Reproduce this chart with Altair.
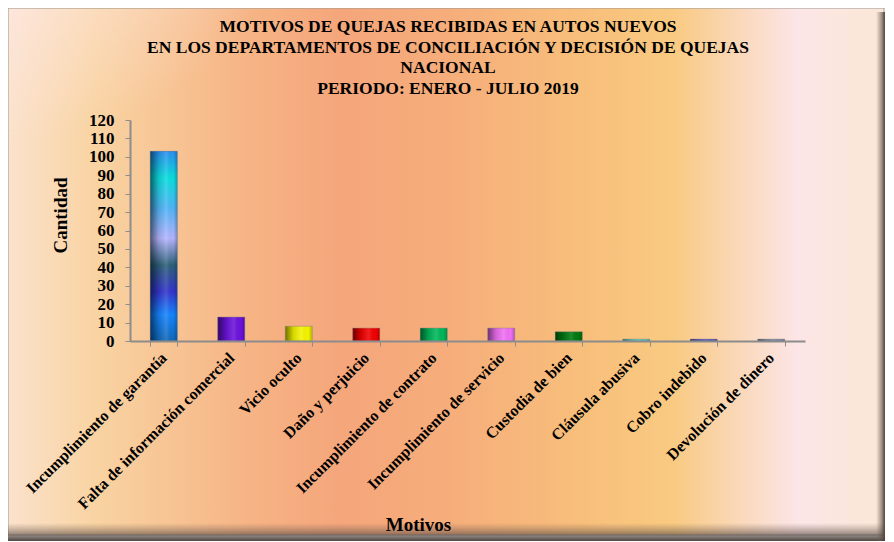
import altair as alt
import pandas as pd

motivos = [
    "Incumplimiento de garantía",
    "Falta de información comercial",
    "Vicio oculto",
    "Daño y perjuicio",
    "Incumplimiento de contrato",
    "Incumplimiento de servicio",
    "Custodia de bien",
    "Cláusula abusiva",
    "Cobro indebido",
    "Devolución de dinero",
]
cantidad = [103, 13, 8, 7, 7, 7, 5, 1, 1, 1]
colores = ["#1c8cf0", "#6c12dc", "#f4f400", "#f20000", "#00b85a",
           "#f070f4", "#007a10", "#48d0c8", "#4040c8", "#7484a4"]
titulo = [
    "MOTIVOS DE QUEJAS RECIBIDAS EN AUTOS NUEVOS",
    "EN LOS DEPARTAMENTOS DE CONCILIACIÓN Y DECISIÓN DE QUEJAS",
    "NACIONAL",
    "PERIODO: ENERO - JULIO  2019",
]
y_ticks = list(range(0, 121, 10))

df = pd.DataFrame({"Motivos": motivos, "Cantidad": cantidad})
one = alt.Data(values=[{"a": 1}])

W, H = 675, 221
PL, PT, PR, PB = 122, 112, 80, 200
SERIF = "Liberation Serif"

def grad(stops, x2=1, y2=0, x1=0, y1=0):
    return alt.Gradient(
        gradient="linear", x1=x1, y1=y1, x2=x2, y2=y2,
        stops=[alt.GradientStop(color=c, offset=o) for o, c in stops],
    )

bg = alt.Chart(one).mark_rect(
    color=grad([
        (0.0, "#fbe2cc"), (0.1, "#f9d3a2"), (0.28, "#f6b384"),
        (0.38, "#f5a67b"), (0.5, "#f6ad7b"), (0.66, "#f8bf7b"),
        (0.76, "#f9ca82"), (0.84, "#fad9bd"), (0.9, "#fce5e6"),
        (1.0, "#fbe7d6"),
    ]),
    stroke="#9a9a9a", strokeWidth=1,
).encode(x=alt.value(-PL), x2=alt.value(W + PR - 1),
         y=alt.value(-PT), y2=alt.value(H + PB - 6))

glow = alt.Chart(one).mark_rect(
    color=alt.Gradient(
        gradient="radial", x1=0, y1=0, r1=0, x2=0, y2=0, r2=0.35,
        stops=[alt.GradientStop(color="rgba(255,236,240,0.95)", offset=0),
               alt.GradientStop(color="rgba(255,236,240,0)", offset=1)],
    )
).encode(x=alt.value(-PL + 1), x2=alt.value(W + PR - 2),
         y=alt.value(-PT + 1), y2=alt.value(H + PB - 7))

shadow_b = alt.Chart(one).mark_rect(
    color=grad([(0, "rgba(120,100,90,0)"), (1, "rgba(70,60,55,0.95)")], x2=0, y2=1)
).encode(x=alt.value(-PL), x2=alt.value(W + PR), y=alt.value(H + PB - 18),
         y2=alt.value(H + PB))

shadow_r = alt.Chart(one).mark_rect(
    color=grad([(0, "rgba(120,100,90,0)"), (1, "rgba(70,60,55,0.9)")])
).encode(x=alt.value(W + PR - 9), x2=alt.value(W + PR), y=alt.value(-PT + 4),
         y2=alt.value(H + PB))

x_enc = alt.X(
    "Motivos:N", sort=motivos,
    scale=alt.Scale(paddingInner=0.6, paddingOuter=0.3),
    axis=alt.Axis(
        title="Motivos", titleX=288, titleY=183, titleAlign="center",
        titleBaseline="middle", titleFont=SERIF, titleFontSize=19,
        titleFontWeight="bold", titleColor="black",
        labelAngle=315, labelAlign="right", labelBaseline="middle",
        labelFont=SERIF, labelFontSize=16, labelFontWeight="bold",
        labelColor="black", labelPadding=9, labelOverlap=False,
        labelLimit=400, tickBand="extent", tickSize=5, tickColor="#8c8c8c",
        domainColor="#8c8c8c", domainWidth=2, zindex=1,
    ),
)
y_enc = alt.Y(
    "Cantidad:Q",
    scale=alt.Scale(domain=[0, 120], nice=False),
    axis=alt.Axis(
        values=y_ticks, tickCount=13, grid=False, labelOverlap=False,
        title="Cantidad", titleX=-70, titleY=95, titleAngle=270,
        titleAlign="center", titleBaseline="middle", titleFont=SERIF,
        titleFontSize=19, titleFontWeight="bold", titleColor="black",
        labelFont=SERIF, labelFontSize=17, labelFontWeight="bold",
        labelColor="black", labelPadding=11, tickSize=5, tickColor="#8c8c8c",
        domainColor="#8c8c8c", domainWidth=2, zindex=1,
    ),
)

bars = alt.Chart(df).mark_bar().encode(
    x=x_enc, y=y_enc,
    color=alt.Color("Motivos:N", sort=motivos,
                    scale=alt.Scale(domain=motivos, range=colores), legend=None),
)

first = alt.Chart(df).transform_filter(
    alt.datum.Motivos == motivos[0]
).mark_bar(
    color=grad([
        (0.0, "#2a8ef0"), (0.14, "#08dede"), (0.3, "#50b4f8"),
        (0.46, "#b4b4ff"), (0.6, "#2c6078"), (0.74, "#3434cc"),
        (0.86, "#1484ff"), (1.0, "#1068b8"),
    ], x2=0, y2=1)
).encode(x=x_enc, y=y_enc)

shade = alt.Chart(df).mark_bar(
    color=grad([
        (0.0, "rgba(0,0,0,0.55)"), (0.3, "rgba(0,0,0,0.12)"),
        (0.6, "rgba(255,255,255,0.12)"), (0.85, "rgba(0,0,0,0.0)"),
        (1.0, "rgba(0,0,0,0.25)"),
    ]),
    stroke="rgba(120,120,120,0.5)", strokeWidth=0.8,
).encode(x=x_enc, y=y_enc)

title_txt = alt.Chart(one).mark_text(
    text=titulo, font=SERIF, fontSize=17.5, fontWeight="bold", color="black",
    align="center", baseline="middle", lineHeight=20.5,
).encode(x=alt.value(318), y=alt.value(-93))

chart = alt.layer(
    bg, glow, shadow_b, shadow_r, bars, first, shade, title_txt
).properties(
    width=W, height=H,
    padding={"left": PL, "top": PT, "right": PR, "bottom": PB},
    autosize=alt.AutoSizeParams(type="none"),
).configure_view(stroke=None).configure(background="white")

chart.save("out.html", embed_options={"renderer": "svg", "actions": False})
